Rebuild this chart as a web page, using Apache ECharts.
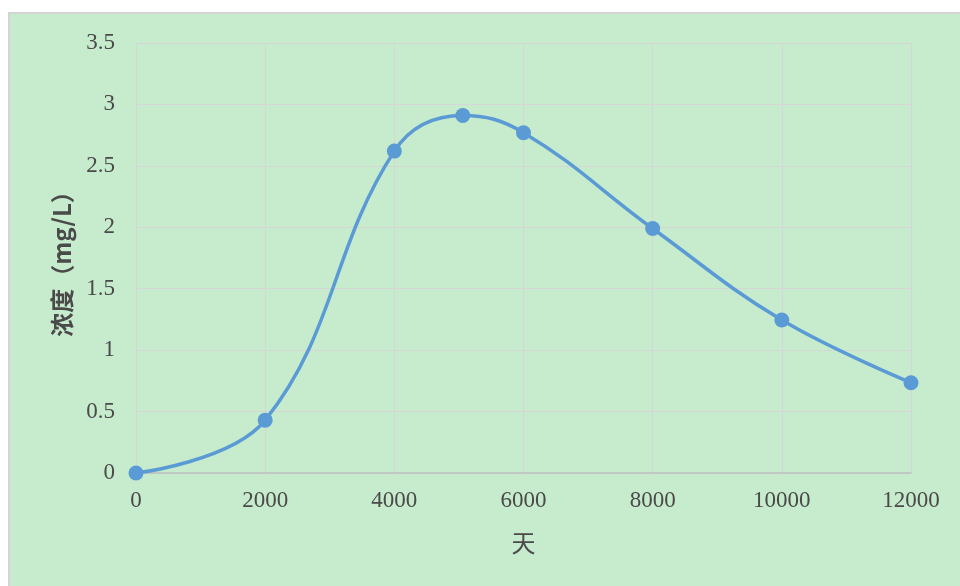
<!DOCTYPE html>
<html>
<head>
<meta charset="utf-8">
<script src="https://cdn.jsdelivr.net/npm/echarts@6/dist/echarts.min.js"></script>
<style>
html,body{margin:0;padding:0;background:#fff;}
#c{width:960px;height:586px;}
</style>
</head>
<body>
<div id="c"></div>
<script>
const days = [0, 2000, 4000, 5060, 6000, 8000, 10000, 12000];
const concentration = [0, 0.43, 2.62, 2.91, 2.77, 1.99, 1.245, 0.735];
const xTicks = {min: 0, max: 12000, interval: 2000};
const yTicks = {min: 0, max: 3.5, interval: 0.5};
const xName = '天';
const yName = '浓度（mg/L）';

const chart = echarts.init(document.getElementById('c'), null, {renderer: 'canvas'});
const labelFont = {color: '#4a4a4a', fontSize: 23, fontFamily: '"Liberation Serif", "Times New Roman", serif'};
chart.setOption({
  backgroundColor: '#ffffff',
  animation: false,
  graphic: [{
    type: 'rect', z: -10, silent: true,
    shape: {x: 9, y: 13, width: 960, height: 600},
    style: {fill: '#c7ebcd', stroke: '#d4d4d4', lineWidth: 2}
  }],
  grid: {left: 136, right: 49, top: 43, bottom: 113, containLabel: false},
  xAxis: {
    type: 'value', min: xTicks.min, max: xTicks.max, interval: xTicks.interval,
    name: xName, nameLocation: 'middle', nameGap: 58,
    nameTextStyle: {color: '#4a4a4a', fontSize: 24, fontFamily: '"Noto Sans CJK SC", serif'},
    axisLine: {show: true, lineStyle: {color: '#bfbfbf', width: 1.5}},
    axisTick: {show: false},
    axisLabel: Object.assign({margin: 16, formatter: v => String(v)}, labelFont),
    splitLine: {show: true, lineStyle: {color: '#d6d6d6', width: 1}}
  },
  yAxis: {
    type: 'value', min: yTicks.min, max: yTicks.max, interval: yTicks.interval,
    name: yName, nameLocation: 'middle', nameGap: 62, nameRotate: 90,
    nameTextStyle: {color: '#4a4a4a', fontSize: 24, fontWeight: 'bold', fontFamily: '"Noto Sans CJK SC", serif'},
    axisLine: {show: false},
    axisTick: {show: false},
    axisLabel: Object.assign({margin: 21, formatter: v => String(v)}, labelFont),
    splitLine: {show: true, lineStyle: {color: '#d6d6d6', width: 1}}
  },
  series: [{
    type: 'line',
    data: days.map((d, i) => [d, concentration[i]]),
    smooth: 0.4,
    symbol: 'circle', symbolSize: 15,
    lineStyle: {color: '#5b9bd5', width: 3.5},
    itemStyle: {color: '#5b9bd5'}
  }]
});
</script>
</body>
</html>
